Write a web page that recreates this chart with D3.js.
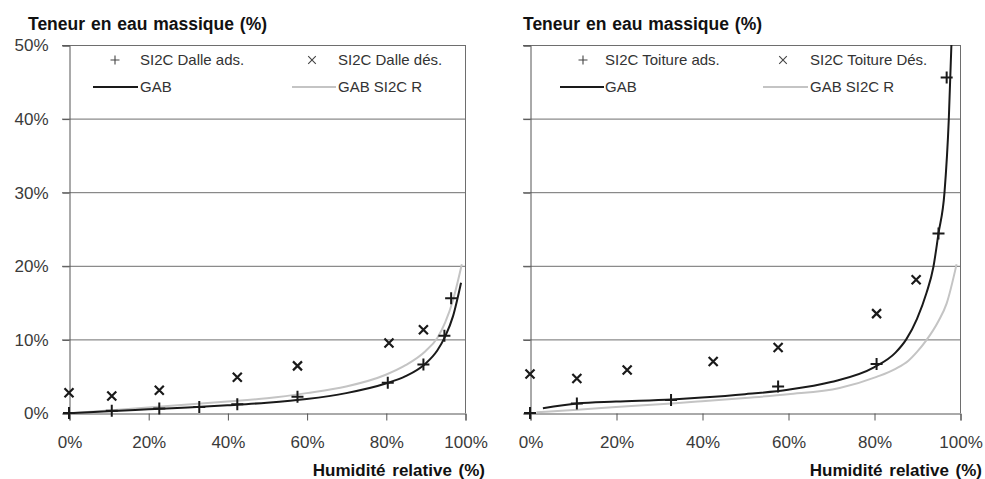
<!DOCTYPE html>
<html>
<head>
<meta charset="utf-8">
<script src="https://cdn.jsdelivr.net/npm/d3@7"></script>
<style>
  html, body { margin: 0; padding: 0; background: #fff; }
  svg { display: block; }
</style>
</head>
<body>
<svg id="chart" width="985" height="479"></svg>
<script>
// ---------- DATA ----------
const yTicks = [0, 10, 20, 30, 40, 50];
const xTicks = [0, 20, 40, 60, 80, 100];
const yTitle = "Teneur en eau massique (%)";
const xTitle = "Humidité relative (%)";

// Left panel : Dalle
const dalleAdsRH = [0, 10.8, 22.8, 32.9, 42.5, 57.7, 80.5, 89.5, 94.8, 96.5];
const dalleAdsW  = [0, 0.3, 0.6, 0.8, 1.2, 2.2, 4.1, 6.6, 10.5, 15.6];
const dalleDesRH = [0, 10.8, 22.8, 42.5, 57.7, 80.8, 89.5];
const dalleDesW  = [2.75, 2.3, 3.1, 4.85, 6.4, 9.5, 11.3];
const dalleGabRH = [1.2, 10, 20, 30, 40, 50, 60, 70, 80, 85, 90, 93, 95, 97, 99];
const dalleGabW  = [0, 0.25, 0.5, 0.75, 1.05, 1.4, 1.9, 2.7, 4.0, 5.0, 6.7, 8.5, 10.4, 13.2, 17.7];
const dalleGabRRH = [1, 10, 20, 30, 40, 50, 60, 70, 80, 85, 90, 93, 95, 97, 99.2];
const dalleGabRW  = [0, 0.35, 0.75, 1.15, 1.55, 2.0, 2.7, 3.6, 5.2, 6.5, 8.4, 10.2, 12.3, 15.4, 20.2];
const dalleLegend = ["SI2C Dalle ads.", "SI2C Dalle dés.", "GAB", "GAB SI2C R"];

// Right panel : Toiture
const toitAdsRH = [0, 10.9, 32.8, 57.7, 80.6, 95, 96.9];
const toitAdsW  = [0, 1.3, 1.77, 3.6, 6.65, 24.4, 45.6];
const toitDesRH = [0, 10.9, 22.6, 42.6, 57.7, 80.6, 89.8];
const toitDesW  = [5.3, 4.7, 5.85, 7.0, 8.9, 13.5, 18.1];
const toitGabRH = [3, 11, 20, 33, 40, 50, 60, 70, 80, 85, 87.5, 90, 92.2, 93.8, 95, 96.4, 97.4, 98];
const toitGabW  = [0.65, 1.3, 1.55, 1.85, 2.1, 2.55, 3.15, 4.2, 6.2, 8.2, 10, 12.8, 16.3, 19.8, 24.4, 30, 40, 50];
const toitGabRRH = [1.5, 11, 20, 33, 40, 50, 60, 72, 80.6, 85, 88, 90, 92.2, 95, 96.9, 99.2];
const toitGabRW  = [0.1, 0.45, 0.8, 1.3, 1.6, 2.05, 2.55, 3.4, 4.9, 6.0, 7.1, 8.3, 9.9, 12.5, 14.9, 20.2];
const toitLegend = ["SI2C Toiture ads.", "SI2C Toiture Dés.", "GAB", "GAB SI2C R"];

// ---------- DRAW ----------
const svg = d3.select("#chart");
const zip = (xs, ys) => xs.map((x, i) => [x, ys[i]]);
const tickFont = "'Liberation Sans', Arial, sans-serif";

function plusPath(s) { return `M${-s},0H${s}M0,${-s}V${s}`; }
function crossPath(s) { return `M${-s},${-s}L${s},${s}M${-s},${s}L${s},${-s}`; }

function panel(cfg) {
  const x = d3.scaleLinear().domain([0, 100]).range([cfg.x0, cfg.x1]);
  const y = d3.scaleLinear().domain([0, 50]).range([413, 45]);
  const g = svg.append("g");

  // gridlines
  g.append("g").selectAll("line").data(yTicks.filter(d => d > 0)).join("line")
    .attr("x1", cfg.x0 - 7).attr("x2", cfg.x1)
    .attr("y1", d => y(d) + 0.5).attr("y2", d => y(d) + 0.5)
    .attr("stroke", "#6e6e6e").attr("stroke-width", 1);
  // right border
  g.append("line").attr("x1", cfg.x1 + 0.5).attr("x2", cfg.x1 + 0.5)
    .attr("y1", y(50)).attr("y2", y(0)).attr("stroke", "#6e6e6e");

  // y axis
  const ya = d3.axisLeft(y).tickValues(yTicks).tickSize(7)
    .tickFormat(d => cfg.yLabels ? d + "%" : "");
  const yg = g.append("g").attr("transform", `translate(${cfg.x0 + 0.5},0.5)`).call(ya);
  yg.select(".domain").attr("stroke", "#555");
  yg.selectAll(".tick line").attr("stroke", "#555");
  yg.selectAll(".tick text").attr("font-family", tickFont).attr("font-size", 17)
    .attr("fill", "#3a3a3a").attr("x", -21);

  // x axis
  const xa = d3.axisBottom(x).tickValues(xTicks).tickSize(7).tickFormat(d => d + "%");
  const xg = g.append("g").attr("transform", `translate(0.5,${413.5})`).call(xa);
  xg.select(".domain").attr("stroke", "#555");
  xg.selectAll(".tick line").attr("stroke", "#555");
  xg.selectAll(".tick text").attr("font-family", tickFont).attr("font-size", 17)
    .attr("fill", "#3a3a3a").attr("y", 22);

  // titles
  g.append("text").attr("x", cfg.titleX).attr("y", 30)
    .attr("font-family", "'Liberation Sans', Arial, sans-serif").attr("font-weight", "bold")
    .attr("font-size", 17.5).attr("fill", "#111").attr("word-spacing", 1).text(yTitle);
  g.append("text").attr("x", cfg.xTitleRight).attr("y", 476).attr("text-anchor", "end")
    .attr("font-family", "'Liberation Sans', Arial, sans-serif").attr("font-weight", "bold")
    .attr("font-size", 17).attr("fill", "#111").attr("word-spacing", 2).text(xTitle);

  // curves
  const line = d3.line().x(d => x(d[0])).y(d => y(d[1])).curve(d3.curveMonotoneX);
  g.append("path").datum(zip(cfg.gabRRH, cfg.gabRW)).attr("d", line)
    .attr("fill", "none").attr("stroke", "#c4c4c4").attr("stroke-width", 2);
  g.append("path").datum(zip(cfg.gabRH, cfg.gabW)).attr("d", line)
    .attr("fill", "none").attr("stroke", "#1a1a1a").attr("stroke-width", 2);

  // markers
  g.append("g").selectAll("path").data(zip(cfg.desRH, cfg.desW)).join("path")
    .attr("transform", d => `translate(${x(d[0])},${y(d[1])})`)
    .attr("d", crossPath(4.5)).attr("stroke", "#1a1a1a").attr("stroke-width", 2.2).attr("fill", "none");
  g.append("g").selectAll("path").data(zip(cfg.adsRH, cfg.adsW)).join("path")
    .attr("transform", d => `translate(${x(d[0])},${y(d[1])})`)
    .attr("d", plusPath(6)).attr("stroke", "#1a1a1a").attr("stroke-width", 2).attr("fill", "none");

  // legend
  const L = cfg.legend, lf = "'Liberation Sans', Arial, sans-serif";
  const lg = g.append("g").attr("font-family", lf).attr("font-size", 15).attr("fill", "#333");
  lg.append("path").attr("transform", `translate(${cfg.lx[0]},60)`).attr("d", plusPath(4.5))
    .attr("stroke", "#444").attr("stroke-width", 1.1);
  lg.append("text").attr("x", cfg.lx[1]).attr("y", 60).attr("dy", "0.35em").text(L[0]);
  lg.append("path").attr("transform", `translate(${cfg.lx[2]},60)`).attr("d", crossPath(3.8))
    .attr("stroke", "#444").attr("stroke-width", 1.1);
  lg.append("text").attr("x", cfg.lx[3]).attr("y", 60).attr("dy", "0.35em").text(L[1]);
  lg.append("line").attr("x1", cfg.lx[4]).attr("x2", cfg.lx[5]).attr("y1", 87).attr("y2", 87)
    .attr("stroke", "#1a1a1a").attr("stroke-width", 2);
  lg.append("text").attr("x", cfg.lx[1]).attr("y", 87).attr("dy", "0.35em").text(L[2]);
  lg.append("line").attr("x1", cfg.lx[6]).attr("x2", cfg.lx[7]).attr("y1", 87).attr("y2", 87)
    .attr("stroke", "#c4c4c4").attr("stroke-width", 2);
  lg.append("text").attr("x", cfg.lx[3]).attr("y", 87).attr("dy", "0.35em").text(L[3]);
}

panel({
  x0: 69, x1: 465, yLabels: true, titleX: 28, xTitleRight: 485,
  adsRH: dalleAdsRH, adsW: dalleAdsW, desRH: dalleDesRH, desW: dalleDesW,
  gabRH: dalleGabRH, gabW: dalleGabW, gabRRH: dalleGabRRH, gabRW: dalleGabRW,
  legend: dalleLegend, lx: [115, 140, 312, 338, 93, 138, 292, 336]
});
panel({
  x0: 530, x1: 960, yLabels: false, titleX: 523, xTitleRight: 982,
  adsRH: toitAdsRH, adsW: toitAdsW, desRH: toitDesRH, desW: toitDesW,
  gabRH: toitGabRH, gabW: toitGabW, gabRRH: toitGabRRH, gabRW: toitGabRW,
  legend: toitLegend, lx: [583, 605, 783, 810, 560, 604, 763, 808]
});
</script>
</body>
</html>
